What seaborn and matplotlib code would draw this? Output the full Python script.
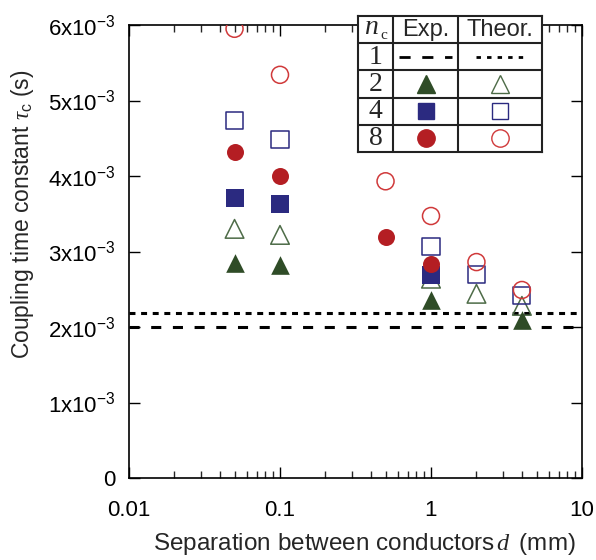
import matplotlib
matplotlib.use("Agg")
import matplotlib.pyplot as plt
import seaborn as sns
import numpy as np
import pandas as pd

sns.set_style("ticks")
plt.rcParams['font.family'] = ['Liberation Sans', 'DejaVu Sans']
plt.rcParams['mathtext.fontset'] = 'custom'
plt.rcParams['mathtext.rm'] = 'Liberation Sans'
plt.rcParams['mathtext.it'] = 'Liberation Serif:italic'
plt.rcParams['mathtext.bf'] = 'Liberation Sans:bold'

# ---------------- data ----------------
exp2_d = [0.05, 0.1, 1.0, 4.0]
exp2_tau = [2.85e-3, 2.82e-3, 2.36e-3, 2.09e-3]
exp4_d = [0.05, 0.1, 1.0]
exp4_tau = [3.71e-3, 3.63e-3, 2.69e-3]
exp8_d = [0.05, 0.1, 0.5, 1.0]
exp8_tau = [4.32e-3, 4.00e-3, 3.19e-3, 2.83e-3]

th2_d = [0.05, 0.1, 1.0, 2.0, 4.0]
th2_tau = [3.30e-3, 3.22e-3, 2.64e-3, 2.44e-3, 2.28e-3]
th4_d = [0.05, 0.1, 1.0, 2.0, 4.0]
th4_tau = [4.74e-3, 4.48e-3, 3.06e-3, 2.70e-3, 2.42e-3]
th8_d = [0.05, 0.1, 0.5, 1.0, 2.0, 4.0]
th8_tau = [5.95e-3, 5.34e-3, 3.93e-3, 3.47e-3, 2.86e-3, 2.49e-3]

exp1_tau = 2.00e-3
th1_tau = 2.19e-3

x_ticks = [0.01, 0.1, 1, 10]
x_ticklabels = ["0.01", "0.1", "1", "10"]
y_ticks = [0, 1e-3, 2e-3, 3e-3, 4e-3, 5e-3, 6e-3]
y_ticklabels = ["0"] + [r"$\mathregular{%dx10^{-3}}$" % i for i in range(1, 7)]

nc_labels = ["1", "2", "4", "8"]

# ---------------- styles ----------------
GREEN = "#2f4c27"
GREEN_L = "#4d6b47"
NAVY = "#2b2a80"
RED = "#b41e23"
RED_L = "#d0393a"
FS = 16

W, H = 596, 560
fig = plt.figure(figsize=(W / 100, H / 100), dpi=100)
ax = fig.add_axes([129 / W, 1 - 478 / H, 453 / W, 453 / H])

S = 150
series = [
    (th2_d, th2_tau, "^", "none", GREEN_L, 2),
    (exp2_d, exp2_tau, "^", GREEN, GREEN, 3),
    (exp4_d, exp4_tau, "s", NAVY, NAVY, 3),
    (exp8_d, exp8_tau, "o", RED, RED, 4),
    (th4_d, th4_tau, "s", "none", NAVY, 5),
    (th8_d, th8_tau, "o", "none", RED_L, 6),
]
for d, t, m, fc, ec, z in series:
    df = pd.DataFrame({"d": d, "tau": t})
    sns.scatterplot(data=df, x="d", y="tau", marker=m, s=S if m != "^" else S * 1.2,
                    facecolor=fc, edgecolor=ec, linewidth=1.1 if fc == "none" else 0,
                    ax=ax, zorder=z, legend=False)

ax.axhline(exp1_tau, color="black", lw=2.2, dashes=(3.3, 3.8), zorder=1)
ax.axhline(th1_tau, color="black", lw=2.2, dashes=(1.95, 1.85), zorder=1)

ax.set_xscale("log")
ax.set_xlim(0.01, 10)
ax.set_ylim(0, 6e-3)
ax.set_xticks(x_ticks)
ax.set_xticklabels(x_ticklabels)
ax.set_yticks(y_ticks)
ax.set_yticklabels(y_ticklabels)
ax.tick_params(axis="both", which="major", direction="in", length=8, width=1,
               top=True, right=True, labelsize=FS, colors="black")
ax.tick_params(axis="x", which="major", pad=16)
ax.tick_params(axis="y", which="major", pad=10)
ax.tick_params(axis="x", which="minor", direction="in", length=5, width=1, top=True)
for sp in ax.spines.values():
    sp.set_visible(True)
    sp.set_linewidth(1.2)
    sp.set_color("black")

ax.set_xlabel(r"Separation between conductors$\,d\,$ (mm)", fontsize=17.5)
ax.xaxis.set_label_coords(0.519, -0.118)
ax.set_ylabel(r"Coupling time constant $\tau_\mathregular{c}$ (s)", fontsize=16.5)
ax.yaxis.set_label_coords(-0.205, 0.583)

# ---------------- legend table ----------------
tx0, tx1, ty0, ty1 = 358, 542, 16, 152
tab = fig.add_axes([tx0 / W, 1 - ty1 / H, (tx1 - tx0) / W, (ty1 - ty0) / H], zorder=10)
cw = [35, 65, 84]
cx = np.cumsum([0] + cw)
tab.set_xlim(0, cx[-1])
tab.set_ylim(5, 0)
tab.set_facecolor("white")
for sp in tab.spines.values():
    sp.set_linewidth(1.5)
    sp.set_color("#222222")
tab.set_xticks([])
tab.set_yticks([])
for r in range(1, 5):
    tab.axhline(r, color="#222222", lw=1.5)
for c in cx[1:-1]:
    tab.axvline(c, color="#222222", lw=1.5)

c0 = (cx[0] + cx[1]) / 2
c1 = (cx[1] + cx[2]) / 2
c2 = (cx[2] + cx[3]) / 2
tab.text(c0 - 4, 0.42, r"$n$", fontsize=20, ha="center", va="center")
tab.text(c0 + 8, 0.72, "c", fontsize=11, ha="center", va="center", family="Liberation Serif")
tab.text(c1, 0.52, "Exp.", fontsize=17, ha="center", va="center")
tab.text(c2, 0.52, "Theor.", fontsize=17, ha="center", va="center")
for i, lab in enumerate(nc_labels):
    tab.text(c0, i + 1.52, lab, fontsize=20, ha="center", va="center", family="Liberation Serif")

tab.plot([cx[1] + 6, cx[2] - 6], [1.5, 1.5], color="black", lw=2, dashes=(4, 4.2))
tab.plot([cx[2] + 18, cx[3] - 18], [1.5, 1.5], color="black", lw=2, dashes=(1.6, 2.2))
tab.plot([c1], [2.5], marker="^", ms=13, color=GREEN, mec=GREEN)
tab.plot([c2], [2.5], marker="^", ms=13, mfc="white", mec=GREEN_L, mew=1)
tab.plot([c1], [3.5], marker="s", ms=11.5, color=NAVY, mec=NAVY)
tab.plot([c2], [3.5], marker="s", ms=11.5, mfc="white", mec=NAVY, mew=1)
tab.plot([c1], [4.5], marker="o", ms=12.5, color=RED, mec=RED)
tab.plot([c2], [4.5], marker="o", ms=12.5, mfc="white", mec=RED_L, mew=1)

fig.savefig("out.png", dpi=100)
